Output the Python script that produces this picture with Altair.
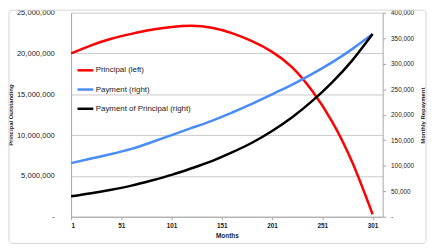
import altair as alt
import pandas as pd

months = [1, 21, 41, 61, 81, 101, 121, 141, 161, 181, 201, 221, 241, 261, 281, 301]
principal = [20.0e6, 21.0e6, 21.8e6, 22.4e6, 22.9e6, 23.25e6, 23.4e6, 23.15e6,
             22.5e6, 21.5e6, 20.2e6, 18.3e6, 15.4e6, 11.6e6, 6.6e6, 0.3e6]
payment = [105e3, 114e3, 123e3, 133e3, 146e3, 160e3, 174e3, 188e3,
           204e3, 221e3, 240e3, 259e3, 280e3, 303e3, 329e3, 358e3]
principal_payment = [40e3, 46e3, 53e3, 61e3, 71e3, 82e3, 95e3, 109e3,
                     126e3, 145e3, 168e3, 195e3, 227e3, 264e3, 307e3, 358e3]

series_names = ["Principal (left)", "Payment (right)", "Payment of Principal (right)"]
series_colors = ["#ff0000", "#4a8cf5", "#000000"]
x_ticks = [1, 51, 101, 151, 201, 251, 301]
left_ticks = [0, 5e6, 10e6, 15e6, 20e6, 25e6]
right_ticks = [0, 50e3, 100e3, 150e3, 200e3, 250e3, 300e3, 350e3, 400e3]

rows = []
for m, p, pay, pp in zip(months, principal, payment, principal_payment):
    rows.append({"month": m, "series": series_names[0], "value": p})
    rows.append({"month": m, "series": series_names[1], "value": pay})
    rows.append({"month": m, "series": series_names[2], "value": pp})
df = pd.DataFrame(rows)

FONT = "Liberation Sans"
label_expr = "datum.value == 0 ? '-' : format(datum.value, ',')"

x_enc = alt.X(
    "month:Q",
    scale=alt.Scale(domain=[1, 311], nice=False, zero=False),
    axis=alt.Axis(
        values=x_ticks, title="Months", grid=False,
        domainColor="#a6a6a6", tickColor="#a6a6a6", tickSize=3,
        labelFontSize=6.5, labelFont=FONT, labelColor="#222", labelPadding=3,
        labelFontWeight="bold",
        titleFontSize=6.5, titleFont=FONT, titleFontWeight="bold",
        titleColor="#222", titlePadding=4,
    ),
)

color_enc = alt.Color(
    "series:N",
    scale=alt.Scale(domain=series_names, range=series_colors),
    legend=alt.Legend(
        title=None, orient="none", legendX=5, legendY=49,
        symbolType="stroke", symbolSize=256, symbolStrokeWidth=2.5,
        labelFontSize=8, labelFont=FONT, labelColor="#222",
        rowPadding=4.5, padding=0, labelOffset=1,
    ),
)

left = alt.Chart(df).transform_filter(
    alt.datum.series == series_names[0]
).mark_line(strokeWidth=2.5, interpolate="natural").encode(
    x=x_enc,
    y=alt.Y(
        "value:Q",
        scale=alt.Scale(domain=[0, 25e6], nice=False),
        axis=alt.Axis(
            orient="left", values=left_ticks, labelExpr=label_expr,
            title="Principal Outstanding", grid=True, gridColor="#c8c8c8",
            ticks=False, domainColor="#a6a6a6",
            labelFontSize=7.7, labelFont=FONT, labelColor="#222", labelPadding=17,
            titleFontSize=6, titleFont=FONT, titleFontWeight="bold",
            titleColor="#222", titlePadding=3,
        ),
    ),
    color=color_enc,
)

right = alt.Chart(df).transform_filter(
    alt.datum.series != series_names[0]
).mark_line(strokeWidth=2.5, interpolate="natural").encode(
    x=x_enc,
    y=alt.Y(
        "value:Q",
        scale=alt.Scale(domain=[0, 400e3], nice=False),
        axis=alt.Axis(
            orient="right", values=right_ticks, labelExpr=label_expr,
            title="Monthly Repayment", grid=False,
            ticks=True, tickSize=3, tickColor="#a6a6a6", domainColor="#a6a6a6",
            labelFontSize=6.5, labelFont=FONT, labelColor="#222", labelPadding=5,
            titleFontSize=6, titleFont=FONT, titleFontWeight="bold",
            titleColor="#222", titleAngle=270,
            titleX=40, titleY=104, titleAlign="center", titleBaseline="middle",
        ),
    ),
    color=color_enc,
)

border = alt.Chart(pd.DataFrame({"a": [0]})).mark_rect(
    fill="transparent", stroke="#d4d4d4", strokeWidth=1, cornerRadius=3
).encode(
    x=alt.value(-63), x2=alt.value(360),
    y=alt.value(-2.5), y2=alt.value(234),
)

chart = alt.layer(left, right, border).resolve_scale(
    y="independent"
).properties(
    width=316, height=207,
    padding={"left": 64, "top": 3, "right": 46, "bottom": 30},
    autosize=alt.AutoSizeParams(type="none"),
).configure_view(strokeWidth=0)

chart.save("out.html", embed_options={"renderer": "svg", "actions": False})
